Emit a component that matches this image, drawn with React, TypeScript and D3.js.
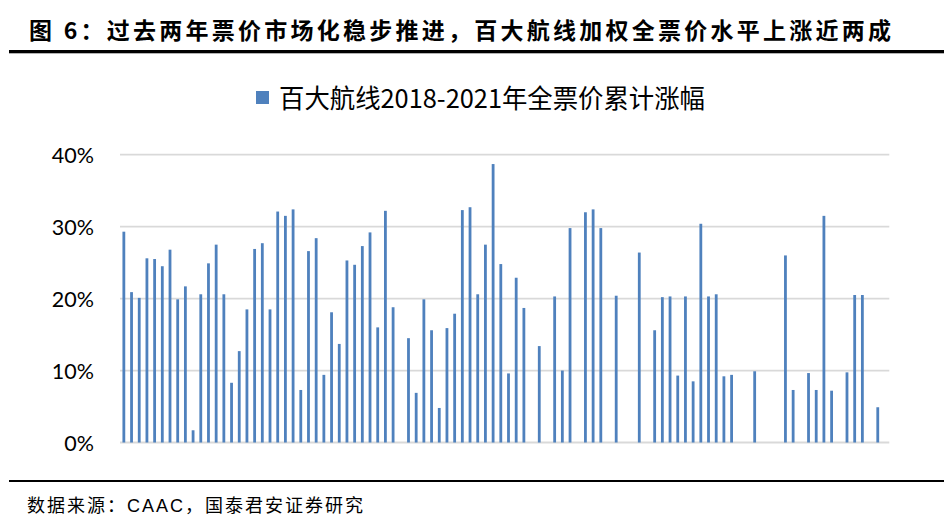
import React from "react";
import * as d3 from "d3";

const title = "图 6：过去两年票价市场化稳步推进，百大航线加权全票价水平上涨近两成";
const legendLabel = "百大航线2018-2021年全票价累计涨幅";
const source = "数据来源：CAAC，国泰君安证券研究";
const yTicks = [0, 0.1, 0.2, 0.3, 0.4];

// cumulative ticket-price rise (%) for the 100 routes; null = no bar shown
const values: (number | null)[] = [
  29.3, 20.9, 20.1, 25.6, 25.5, 24.5, 26.8, 19.9, 21.7, 1.7,
  20.6, 24.9, 27.5, 20.6, 8.3, 12.7, 18.5, 26.9, 27.7, 18.5,
  32.1, 31.5, 32.4, 7.3, 26.6, 28.4, 9.4, 18.1, 13.7, 25.3,
  24.7, 27.3, 29.2, 16.0, 32.2, 18.8, null, 14.5, 6.9, 19.9,
  15.6, 4.8, 15.9, 17.9, 32.3, 32.7, 20.6, 27.5, 38.7, 24.8,
  9.6, 22.9, 18.7, null, 13.4, null, 20.3, 10.0, 29.8, null,
  32.0, 32.4, 29.8, null, 20.4, null, null, 26.4, null, 15.6,
  20.2, 20.3, 9.3, 20.3, 8.5, 30.4, 20.3, 20.6, 9.2, 9.4,
  null, null, 9.9, null, null, null, 26.0, 7.3, null, 9.65,
  7.3, 31.5, 7.2, null, 9.75, 20.5, 20.5, null, 4.9, null,
];
const categories = values.map((_, i) => `航线${i + 1}`);

const W = 952;
const H = 524;
const plotLeft = 120;
const plotRight = 889.3;
const plotTop = 154.7;
const plotBottom = 442.5;
const barColor = "#4F81BD";
const gridColor = "#D9D9D9";
const cjk = "'Noto Sans CJK SC', 'Noto Sans', sans-serif";

export default function App() {
  const x = d3.scaleBand<string>().domain(categories).range([plotLeft, plotRight]).padding(0);
  const y = d3.scaleLinear().domain([0, 0.4]).range([plotBottom, plotTop]);
  const barW = 2.8;
  const fmt = d3.format(".0%");

  return (
    <svg
      width={W}
      height={H}
      viewBox={`0 0 ${W} ${H}`}
      style={{ position: "absolute", left: 0, top: 0, background: "#fff" }}
    >
      <rect x={0} y={0} width={W} height={H} fill="#fff" />
      {/* title */}
      <text
        x={29}
        y={29}
        dominantBaseline="central"
        fontFamily={cjk}
        fontWeight={700}
        fontSize={23}
        textLength={862}
        lengthAdjust="spacing"
        fill="#000"
      >
        {title}
      </text>
      <rect x={9} y={50} width={935} height={3.3} fill="#000" />

      {/* legend */}
      <rect x={256} y={91} width={13} height={13} fill={barColor} />
      <text
        x={279}
        y={96}
        dominantBaseline="central"
        fontFamily={cjk}
        fontSize={26}
        textLength={426}
        lengthAdjust="spacingAndGlyphs"
        fill="#000"
      >
        {legendLabel}
      </text>

      {/* gridlines */}
      {yTicks.map((t) => (
        <line
          key={t}
          x1={plotLeft}
          x2={plotRight}
          y1={y(t)}
          y2={y(t)}
          stroke={gridColor}
          strokeWidth={1.8}
        />
      ))}
      {/* y tick labels */}
      {yTicks.map((t) => (
        <text
          key={"l" + t}
          x={94}
          y={y(t)}
          textAnchor="end"
          dominantBaseline="central"
          fontFamily="Lato, 'Open Sans', sans-serif"
          fontSize={21.5}
          fill="#000"
        >
          {fmt(t)}
        </text>
      ))}

      {/* bars */}
      {values.map((v, i) =>
        v == null ? null : (
          <rect
            key={i}
            x={(x(categories[i]) as number) + x.bandwidth() / 2 - barW / 2}
            y={y(v / 100)}
            width={barW}
            height={plotBottom - y(v / 100)}
            fill={barColor}
          />
        )
      )}

      {/* footer */}
      <rect x={9} y={480} width={935} height={2} fill="#000" />
      <text
        x={27}
        y={505.5}
        dominantBaseline="central"
        fontFamily={"'Liberation Sans', " + cjk}
        fontSize={18}
        textLength={336}
        lengthAdjust="spacing"
        fill="#000"
      >
        {source}
      </text>
    </svg>
  );
}
